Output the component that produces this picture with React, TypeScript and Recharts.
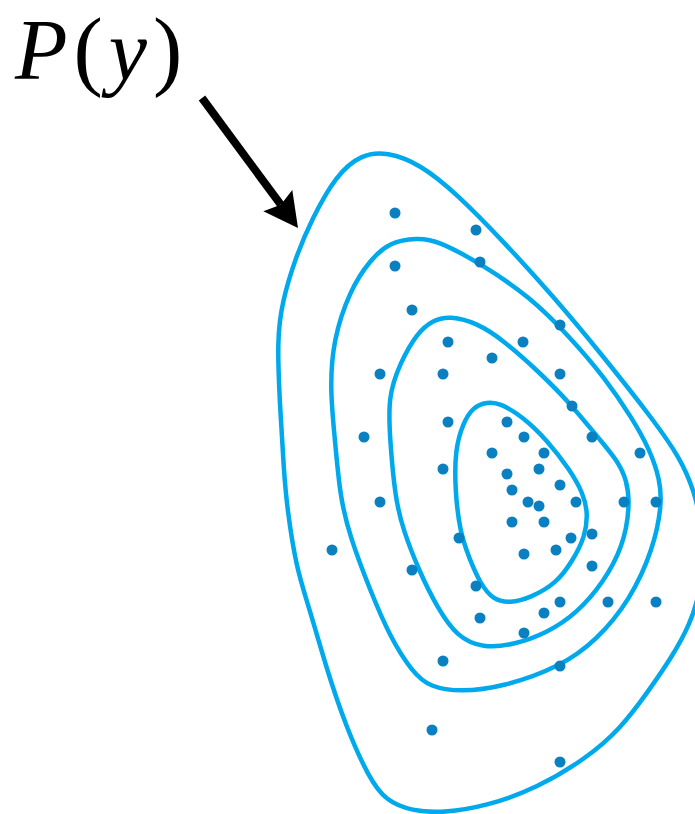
import React from 'react';
import { ScatterChart, Scatter, XAxis, YAxis, ReferenceLine, ReferenceDot } from 'recharts';

// Picture coordinates (x to the right, y downwards)
const outerContour = [
  { x: 387, y: 152 }, { x: 420, y: 164 }, { x: 457, y: 194 }, { x: 503, y: 241 }, { x: 553, y: 296 },
  { x: 603, y: 356 }, { x: 655, y: 422 }, { x: 680, y: 458 }, { x: 694, y: 490 }, { x: 702, y: 526 },
  { x: 704, y: 562 }, { x: 699, y: 596 }, { x: 690, y: 624 }, { x: 672, y: 657 }, { x: 647, y: 693 },
  { x: 621, y: 728 }, { x: 587, y: 758 }, { x: 537, y: 788 }, { x: 487, y: 806 }, { x: 443, y: 813 },
  { x: 412, y: 811 }, { x: 386, y: 801 }, { x: 369, y: 778 }, { x: 346, y: 727 }, { x: 326, y: 667 },
  { x: 309, y: 607 }, { x: 296, y: 567 }, { x: 287, y: 507 }, { x: 284, y: 473 }, { x: 280, y: 407 },
  { x: 277, y: 340 }, { x: 282, y: 302 }, { x: 296, y: 256 }, { x: 312, y: 219 }, { x: 336, y: 175 },
  { x: 362, y: 154 },
];

const secondContour = [
  { x: 417, y: 238 }, { x: 437, y: 240 }, { x: 483, y: 265 }, { x: 530, y: 297 }, { x: 570, y: 337 },
  { x: 605, y: 378 }, { x: 632, y: 418 }, { x: 650, y: 450 }, { x: 660, y: 480 }, { x: 662, y: 505 },
  { x: 653, y: 550 }, { x: 630, y: 600 }, { x: 597, y: 640 }, { x: 560, y: 667 }, { x: 503, y: 687 },
  { x: 460, y: 692 }, { x: 430, y: 687 }, { x: 413, y: 673 }, { x: 390, y: 637 }, { x: 370, y: 590 },
  { x: 350, y: 537 }, { x: 340, y: 497 }, { x: 335, y: 440 }, { x: 330, y: 390 }, { x: 333, y: 340 },
  { x: 350, y: 290 }, { x: 370, y: 260 }, { x: 390, y: 242 },
];

const thirdContour = [
  { x: 450, y: 316 }, { x: 477, y: 323 }, { x: 503, y: 340 }, { x: 537, y: 370 }, { x: 570, y: 403 },
  { x: 600, y: 440 }, { x: 617, y: 460 }, { x: 627, y: 480 }, { x: 630, y: 507 }, { x: 623, y: 547 },
  { x: 603, y: 583 }, { x: 577, y: 613 }, { x: 547, y: 633 }, { x: 513, y: 645 }, { x: 483, y: 648 },
  { x: 457, y: 637 }, { x: 437, y: 607 }, { x: 420, y: 573 }, { x: 403, y: 530 }, { x: 395, y: 497 },
  { x: 390, y: 440 }, { x: 388, y: 397 }, { x: 400, y: 363 }, { x: 417, y: 333 }, { x: 433, y: 320 },
];

const innerContour = [
  { x: 487, y: 402 }, { x: 500, y: 403 }, { x: 523, y: 417 }, { x: 547, y: 440 }, { x: 570, y: 470 },
  { x: 583, y: 493 }, { x: 588, y: 513 }, { x: 585, y: 537 }, { x: 573, y: 560 }, { x: 557, y: 583 },
  { x: 530, y: 598 }, { x: 510, y: 603 }, { x: 493, y: 600 }, { x: 480, y: 583 }, { x: 470, y: 560 },
  { x: 460, y: 533 }, { x: 455, y: 490 }, { x: 455, y: 450 }, { x: 463, y: 423 }, { x: 473, y: 407 },
];

const samples = [
  { x: 395, y: 213 }, { x: 476, y: 230 }, { x: 395, y: 266 }, { x: 480, y: 262 }, { x: 412, y: 310 },
  { x: 560, y: 325 }, { x: 448, y: 342 }, { x: 523, y: 342 }, { x: 492, y: 358 }, { x: 380, y: 374 },
  { x: 443, y: 374 }, { x: 560, y: 374 }, { x: 572, y: 406 }, { x: 448, y: 422 }, { x: 507, y: 422 },
  { x: 364, y: 437 }, { x: 524, y: 437 }, { x: 592, y: 437 }, { x: 640, y: 453 }, { x: 492, y: 453 },
  { x: 544, y: 453 }, { x: 443, y: 469 }, { x: 507, y: 474 }, { x: 539, y: 469 }, { x: 560, y: 485 },
  { x: 512, y: 490 }, { x: 380, y: 502 }, { x: 528, y: 502 }, { x: 539, y: 506 }, { x: 576, y: 502 },
  { x: 624, y: 502 }, { x: 656, y: 502 }, { x: 512, y: 522 }, { x: 544, y: 522 }, { x: 459, y: 538 },
  { x: 592, y: 534 }, { x: 571, y: 538 }, { x: 332, y: 550 }, { x: 556, y: 550 }, { x: 524, y: 554 },
  { x: 412, y: 570 }, { x: 592, y: 566 }, { x: 476, y: 586 }, { x: 560, y: 602 }, { x: 608, y: 602 },
  { x: 656, y: 602 }, { x: 480, y: 618 }, { x: 544, y: 613 }, { x: 524, y: 633 }, { x: 443, y: 661 },
  { x: 560, y: 666 }, { x: 432, y: 730 }, { x: 560, y: 762 },
];

const arrowFrom = { x: 202, y: 98 };
const arrowTo = { x: 298, y: 228 };
const labelAt = { x: 15, y: 79 };

const CONTOUR = '#00a9ec';
const DOT = '#0a80c0';

// the drawing is a bit larger than the window; the outer contour runs off the right edge
const W = 720;
const H = 830;

const noMarker = () => null;

const Arrow = (props: any) => {
  const { x1, y1, x2, y2 } = props;
  const dx = x2 - x1;
  const dy = y2 - y1;
  const len = Math.sqrt(dx * dx + dy * dy);
  const ux = dx / len;
  const uy = dy / len;
  const headLen = 34;
  const halfW = 18;
  const bx = x2 - ux * headLen;
  const by = y2 - uy * headLen;
  const nx = x2 - ux * (headLen - 5);
  const ny = y2 - uy * (headLen - 5);
  const head = [
    [x2, y2],
    [bx - uy * halfW, by + ux * halfW],
    [nx, ny],
    [bx + uy * halfW, by - ux * halfW],
  ]
    .map((p) => p.join(','))
    .join(' ');
  return (
    <g>
      <line x1={x1} y1={y1} x2={nx} y2={ny} stroke="#000" strokeWidth={8} />
      <polygon points={head} fill="#000" />
    </g>
  );
};

const Label = (props: any) => (
  <text x={props.cx} y={props.cy} fontFamily="Liberation Serif, serif" fontSize={86} fill="#000" letterSpacing={6}>
    <tspan fontStyle="italic">P</tspan>
    <tspan fontSize={88}>(</tspan>
    <tspan fontStyle="italic">y</tspan>
    <tspan fontSize={88}>)</tspan>
  </text>
);

export default function App() {
  const line = (c: string) => ({ stroke: c, strokeWidth: 4.5 });
  return (
    <div style={{ position: 'absolute', left: 0, top: 0, width: 695, height: 814, overflow: 'hidden', background: '#fff' }}>
      <ScatterChart width={W} height={H} margin={{ top: 0, right: 0, bottom: 0, left: 0 }}>
        <XAxis type="number" dataKey="x" domain={[0, W]} allowDataOverflow hide />
        <YAxis type="number" dataKey="y" domain={[0, H]} reversed allowDataOverflow hide />
        <Scatter data={outerContour} line={line(CONTOUR)} lineType="joint" lineJointType="basisClosed" shape={noMarker} isAnimationActive={false} />
        <Scatter data={secondContour} line={line(CONTOUR)} lineType="joint" lineJointType="basisClosed" shape={noMarker} isAnimationActive={false} />
        <Scatter data={thirdContour} line={line(CONTOUR)} lineType="joint" lineJointType="basisClosed" shape={noMarker} isAnimationActive={false} />
        <Scatter data={innerContour} line={line(CONTOUR)} lineType="joint" lineJointType="basisClosed" shape={noMarker} isAnimationActive={false} />
        <Scatter
          data={samples}
          isAnimationActive={false}
          shape={(p: any) => <circle cx={p.cx} cy={p.cy} r={5.5} fill={DOT} />}
        />
        <ReferenceLine segment={[arrowFrom, arrowTo]} shape={Arrow} />
        <ReferenceDot x={labelAt.x} y={labelAt.y} r={0} shape={Label} />
      </ScatterChart>
    </div>
  );
}
